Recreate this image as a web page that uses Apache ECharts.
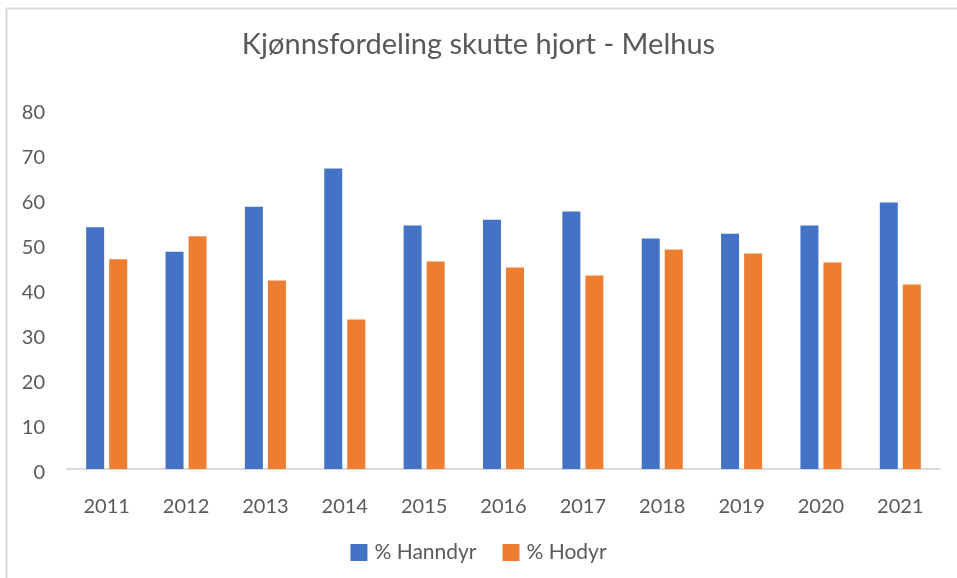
<!DOCTYPE html>
<html>
<head>
<meta charset="utf-8">
<script src="https://cdn.jsdelivr.net/npm/echarts@6/dist/echarts.min.js"></script>
<style>
  html, body { margin: 0; padding: 0; background: #fff; }
  #chart { width: 957px; height: 578px; }
</style>
</head>
<body>
<div id="chart"></div>
<script>
// år på x-aksen
var years = ['2011', '2012', '2013', '2014', '2015', '2016', '2017', '2018', '2019', '2020', '2021'];
// andel hanndyr / hodyr i prosent
var hanndyr = [53.7, 48.3, 58.3, 66.8, 54.1, 55.4, 57.2, 51.2, 52.3, 54.1, 59.2];
var hodyr = [46.6, 51.7, 41.9, 33.2, 46.1, 44.8, 43.0, 48.8, 47.9, 45.9, 41.0];
var yTicks = [0, 10, 20, 30, 40, 50, 60, 70, 80];

var font = 'Lato, "Open Sans", sans-serif';
var textColor = '#595959';

var myChart = echarts.init(document.getElementById('chart'));
var option = {
  animation: false,
  textStyle: { fontFamily: font },
  title: {
    text: 'Kjønnsfordeling skutte hjort - Melhus',
    left: 'center',
    top: 25,
    textStyle: { fontFamily: font, fontSize: 29, fontWeight: 'normal', color: textColor }
  },
  legend: {
    bottom: 10,
    left: 'center',
    itemWidth: 17,
    itemHeight: 17,
    itemGap: 26,
    icon: 'rect',
    textStyle: { fontFamily: font, fontSize: 21, color: textColor, padding: [0, 0, 0, 2] }
  },
  grid: { left: 67, right: 17, top: 109, bottom: 109, containLabel: false },
  xAxis: {
    type: 'category',
    data: years,
    axisLine: { lineStyle: { color: '#d9d9d9', width: 2 } },
    axisTick: { show: false },
    axisLabel: { color: textColor, fontSize: 20, margin: 28, fontFamily: font }
  },
  yAxis: {
    type: 'value',
    min: yTicks[0],
    max: yTicks[yTicks.length - 1],
    interval: 10,
    axisLine: { show: false },
    axisTick: { show: false },
    splitLine: { show: false },
    axisLabel: { color: textColor, fontSize: 20, margin: 22, fontFamily: font, verticalAlign: 'top', lineHeight: 8 }
  },
  graphic: [
    { type: 'line', shape: { x1: 6, y1: 8.5, x2: 957, y2: 8.5 }, style: { stroke: '#d9d9d9', lineWidth: 2 } },
    { type: 'line', shape: { x1: 6.5, y1: 8, x2: 6.5, y2: 578 }, style: { stroke: '#d9d9d9', lineWidth: 2 } }
  ],
  series: [
    { name: '% Hanndyr', type: 'bar', data: hanndyr, barWidth: 18, barGap: '28%', itemStyle: { color: '#4472c4' } },
    { name: '% Hodyr', type: 'bar', data: hodyr, barWidth: 18, itemStyle: { color: '#ed7d31' } }
  ]
};
myChart.setOption(option);
</script>
</body>
</html>
